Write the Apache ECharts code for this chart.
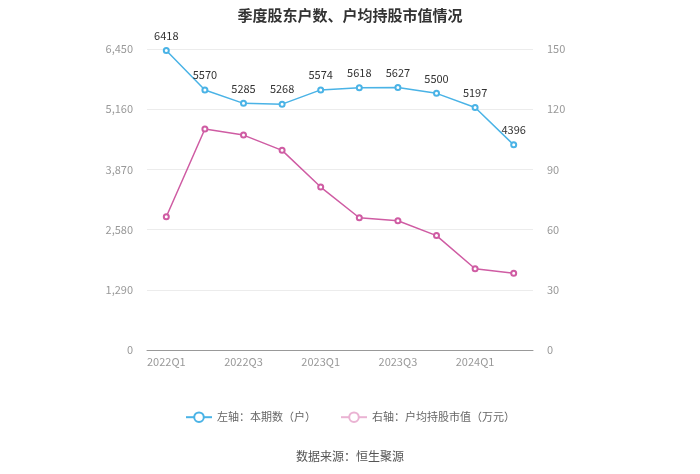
<!DOCTYPE html>
<html><head><meta charset="utf-8">
<script src="https://cdn.jsdelivr.net/npm/echarts@6/dist/echarts.min.js"></script>
<style>html,body{margin:0;padding:0;background:#fff}#c{width:700px;height:474px}</style>
</head><body><div id="c"></div>
<script>
const categories = ['2022Q1','2022Q2','2022Q3','2022Q4','2023Q1','2023Q2','2023Q3','2023Q4','2024Q1','2024Q2'];
const holders = [6418, 5570, 5285, 5268, 5574, 5618, 5627, 5500, 5197, 4396];
const avgValue = [66.4, 110.1, 107.1, 99.5, 81.2, 65.9, 64.4, 57.0, 40.5, 38.2];
const leftTicks = [0, 1290, 2580, 3870, 5160, 6450];
const rightTicks = [0, 30, 60, 90, 120, 150];
const seriesNames = ['左轴：本期数（户）', '右轴：户均持股市值（万元）'];

const blue = '#4ab3e6', pink = '#cf5ca3';
const font = '"Microsoft YaHei","Noto Sans CJK SC",sans-serif';
const chart = echarts.init(document.getElementById('c'));
chart.setOption({
  backgroundColor: '#fff',
  textStyle: {fontFamily: font},
  title: {text: '季度股东户数、户均持股市值情况', left: 'center', top: 3,
    textStyle: {fontSize: 15, fontWeight: 'bold', color: '#333', fontFamily: font}},
  legend: {bottom: 46, itemGap: 24, itemWidth: 26, itemHeight: 12,
    textStyle: {color: '#666', fontSize: 11, fontFamily: font},
    data: [{name: seriesNames[0]}, {name: seriesNames[1], itemStyle: {color: '#eab3d3', borderColor: '#eab3d3'}, lineStyle: {color: '#eab3d3'}}]},
  graphic: [{type: 'text', left: 'center', top: 450,
    style: {text: '数据来源：恒生聚源', fill: '#555', fontSize: 12, fontFamily: font}}],
  grid: {left: 147, right: 167, top: 49, bottom: 124},
  xAxis: {type: 'category', data: categories, boundaryGap: true,
    axisLine: {lineStyle: {color: '#999'}},
    axisTick: {alignWithLabel: true, interval: 1, lineStyle: {color: '#999'}},
    axisLabel: {interval: 1, color: '#999', fontSize: 11, margin: 6}},
  yAxis: [
    {type: 'value', min: leftTicks[0], max: leftTicks[leftTicks.length-1], interval: leftTicks[1]-leftTicks[0],
      axisLine: {show: false}, axisTick: {show: false},
      axisLabel: {color: '#999', fontSize: 11, margin: 14, formatter: v => v.toLocaleString('en-US')},
      splitLine: {lineStyle: {color: '#ececec'}}},
    {type: 'value', min: rightTicks[0], max: rightTicks[rightTicks.length-1], interval: rightTicks[1]-rightTicks[0],
      axisLine: {show: false}, axisTick: {show: false},
      axisLabel: {color: '#999', fontSize: 11, margin: 14},
      splitLine: {show: false}}
  ],
  series: [
    {name: seriesNames[0], type: 'line', yAxisIndex: 0, data: holders,
      symbol: 'emptyCircle', symbolSize: 5, color: blue,
      lineStyle: {width: 1.5, color: blue}, itemStyle: {color: blue, borderWidth: 1.5},
      label: {show: true, position: 'top', color: '#333', fontSize: 11, distance: 6}},
    {name: seriesNames[1], type: 'line', yAxisIndex: 1, data: avgValue,
      symbol: 'emptyCircle', symbolSize: 5, color: pink,
      lineStyle: {width: 1.5, color: pink}, itemStyle: {color: pink, borderWidth: 1.5}}
  ]
});
</script></body></html>
